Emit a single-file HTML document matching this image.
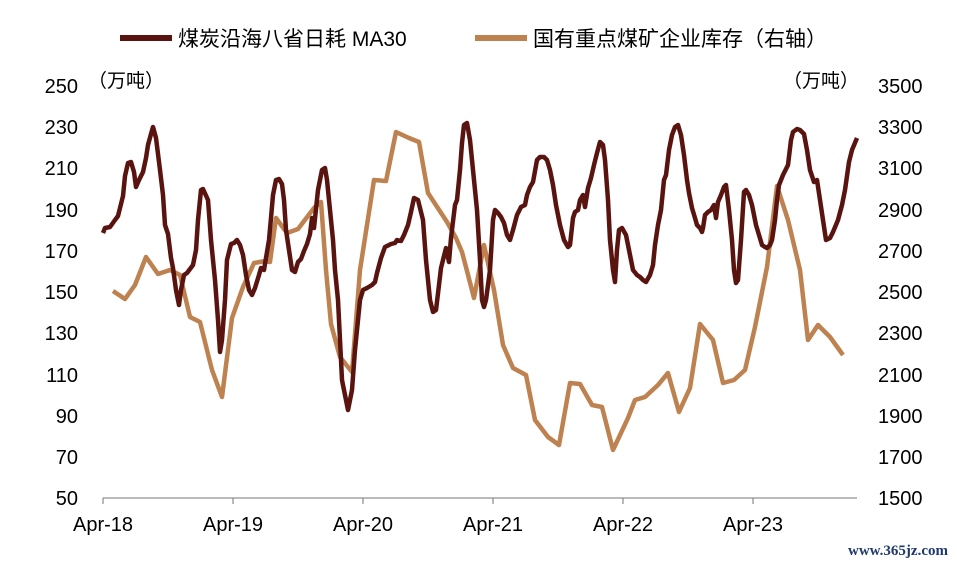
<!DOCTYPE html>
<html><head><meta charset="utf-8"><style>
html,body{margin:0;padding:0;background:#fff;}
svg{display:block;}
text{font-family:"Liberation Sans","Noto Sans CJK SC",sans-serif;fill:#000;}
</style></head><body>
<svg width="957" height="566" viewBox="0 0 957 566" xmlns="http://www.w3.org/2000/svg">
<rect width="957" height="566" fill="#fff"/>
<line x1="120" y1="38" x2="172" y2="38" stroke="#5a1410" stroke-width="6"/>
<text x="178" y="46" font-size="21">煤炭沿海八省日耗 MA30</text>
<line x1="475" y1="38" x2="527" y2="38" stroke="#bd8250" stroke-width="6"/>
<text x="533" y="46" font-size="21">国有重点煤矿企业库存（右轴）</text>
<text x="88" y="87" font-size="19">（万吨）</text>
<text x="783" y="87" font-size="19">（万吨）</text>
<g font-size="20" text-anchor="end">
<text x="78" y="93">250</text><text x="78" y="134">230</text><text x="78" y="175">210</text>
<text x="78" y="217">190</text><text x="78" y="258">170</text><text x="78" y="299">150</text>
<text x="78" y="340">130</text><text x="78" y="382">110</text><text x="78" y="423">90</text>
<text x="78" y="464">70</text><text x="78" y="505">50</text>
</g>
<g font-size="20" text-anchor="start">
<text x="878" y="93">3500</text><text x="878" y="134">3300</text><text x="878" y="175">3100</text>
<text x="878" y="217">2900</text><text x="878" y="258">2700</text><text x="878" y="299">2500</text>
<text x="878" y="340">2300</text><text x="878" y="382">2100</text><text x="878" y="423">1900</text>
<text x="878" y="464">1700</text><text x="878" y="505">1500</text>
</g>
<line x1="103" y1="498" x2="857" y2="498" stroke="#777" stroke-width="1"/>
<g stroke="#777"><line x1="103" y1="498" x2="103" y2="504"/><line x1="233" y1="498" x2="233" y2="504"/><line x1="363" y1="498" x2="363" y2="504"/><line x1="493" y1="498" x2="493" y2="504"/><line x1="623" y1="498" x2="623" y2="504"/><line x1="753" y1="498" x2="753" y2="504"/></g>
<g font-size="20" text-anchor="middle">
<text x="103" y="531">Apr-18</text><text x="233" y="531">Apr-19</text><text x="363" y="531">Apr-20</text>
<text x="493" y="531">Apr-21</text><text x="623" y="531">Apr-22</text><text x="753" y="531">Apr-23</text>
</g>
<polyline fill="none" stroke="#bd8250" stroke-width="4.5" stroke-linejoin="round" points="113,291 125,299 135,285 146,257 158,274 170,270 180,275 190,317 200,322 212,370 222,397 232,318 243,287 254,263 265,261 270,262 276,218 287,233 298,229 314,208 321,202 326,270 331,324 340,357 352,372 360,270 374,180 386,181 396,132 409,138 419,142 428,193 447,222 456,238 462,252 467,271 474,298 484,245 494,290 503,345 513,368 526,375 535,420 548,437 559,445 570,383 580,384 592,405 602,407 613,450 628,418 635,400 645,397 658,385 668,373 679,412 690,388 700,324 713,340 723,383 734,380 745,370 755,327 767,267 777,186 788,220 800,270 808,340 818,325 830,337 843,355"/>
<polyline fill="none" stroke="#5a1410" stroke-width="4.5" stroke-linejoin="round" points="103,233 105,228 110,227 115,220 118,216 120,208 123,196 125,176 128,163 131,162 134,172 136,187 139,180 143,172 146,158 148,145 151,134 153,127 156,138 160,170 163,195 165,225 168,234 171,258 173,268 176,290 179,305 181,290 184,275 187,273 190,269 193,265 196,250 198,220 201,190 203,189 208,200 211,240 215,280 218,320 220,352 222,340 225,300 227,260 231,244 234,243 237,240 240,245 243,255 246,275 249,290 252,295 255,288 259,275 261,268 264,270 266,258 269,240 271,218 273,195 276,180 279,179 282,184 284,200 286,230 289,250 292,270 295,272 298,262 301,259 304,251 307,244 310,234 312,218 314,228 318,190 322,170 325,168 327,180 331,220 333,240 335,270 338,300 340,340 342,380 345,395 348,410 352,390 355,350 358,320 360,300 363,290 367,288 372,285 375,282 377,273 381,258 385,247 391,244 395,243 397,240 401,241 404,235 408,225 411,212 414,198 418,200 423,220 426,260 430,300 433,312 436,310 439,285 441,268 443,260 446,248 449,262 451,238 455,205 457,200 460,170 462,143 464,125 467,123 470,140 474,180 477,210 480,260 482,300 484,307 486,300 490,270 493,220 495,210 498,213 501,217 504,223 507,235 510,240 513,230 517,215 521,207 525,205 527,195 530,187 533,182 537,160 540,157 544,157 547,160 550,170 553,185 556,205 560,225 564,240 568,247 570,245 573,218 575,212 578,210 580,200 583,195 585,207 588,188 591,178 594,165 597,153 600,142 603,145 605,160 608,200 610,240 613,270 615,282 617,250 619,230 622,228 626,235 630,255 633,270 637,275 640,277 643,280 646,282 650,275 653,265 655,245 658,225 661,210 664,180 666,175 669,150 672,135 675,127 678,125 681,135 684,155 687,180 689,193 692,208 695,218 697,225 700,228 702,232 703,228 705,215 708,212 711,210 714,205 716,218 718,202 721,195 724,187 726,185 729,210 732,240 734,270 736,283 738,280 741,240 744,192 746,190 749,195 752,205 756,225 759,235 762,245 765,247 767,248 770,245 772,240 775,220 777,200 779,185 783,175 788,165 791,140 793,132 797,129 800,130 804,134 807,150 810,170 814,182 817,180 820,200 823,220 826,240 830,238 833,232 838,220 842,205 845,190 849,162 852,150 857,138"/>
<text x="948" y="555" font-size="15" font-weight="bold" text-anchor="end" fill="#1f3a6e" style="font-family:'Liberation Serif',serif;fill:#1f3a6e">www.365jz.com</text>
</svg>
</body></html>
